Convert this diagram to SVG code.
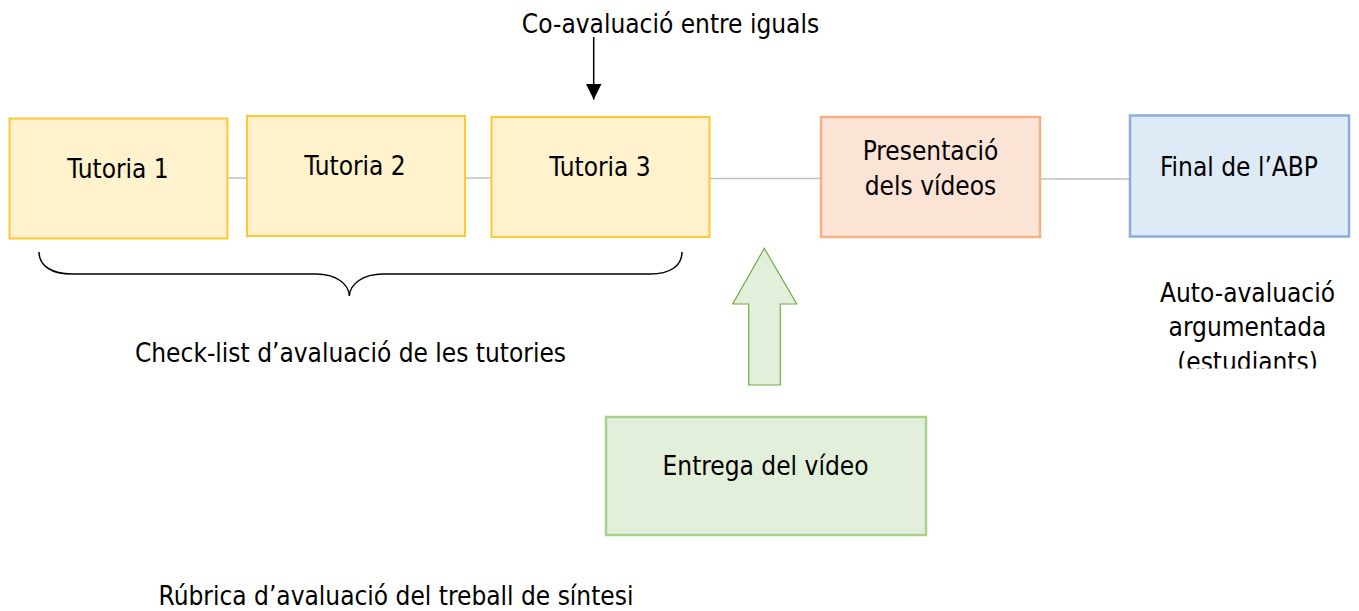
<svg xmlns="http://www.w3.org/2000/svg" width="1359" height="611" viewBox="0 0 1359 611">
<style>
text{font-family:Tahoma,"DejaVu Sans Condensed","DejaVu Sans",sans-serif;font-size:26px;fill:#000;text-anchor:middle}
.tut{fill:#fff2cc;stroke:#ffc833;stroke-width:2}
.con{stroke:#bfbfbf;stroke-width:1.5;fill:none}
</style>
<defs>
<marker id="ah" markerWidth="16" markerHeight="16" refX="16" refY="8" orient="auto" markerUnits="userSpaceOnUse" viewBox="0 0 16 16">
<path d="M0,0 L16,8 L0,16 Z" fill="#000"/>
</marker>
<clipPath id="clipAuto"><rect x="1100" y="270" width="259" height="98.5"/></clipPath>
</defs>
<rect width="1359" height="611" fill="#fff"/>
<g id="connectors">
<line class="con" x1="227" y1="178" x2="247" y2="178"/>
<line class="con" x1="465" y1="178" x2="491.5" y2="178"/>
<line class="con" x1="710" y1="178.5" x2="821" y2="178.5"/>
<line class="con" x1="1040" y1="179" x2="1130" y2="179"/>
<line x1="593.7" y1="37" x2="593.7" y2="99.5" stroke="#000" stroke-width="1.5" marker-end="url(#ah)"/>
</g>
<g id="tutoria1">
<rect class="tut" x="9.5" y="118.5" width="218" height="120"/>
<text x="118" y="178">Tutoria 1</text>
</g>
<g id="tutoria2">
<rect class="tut" x="247" y="116" width="218" height="120"/>
<text x="355" y="175">Tutoria 2</text>
</g>
<g id="tutoria3">
<rect class="tut" x="491.5" y="117" width="218" height="120"/>
<text x="600" y="175.5">Tutoria 3</text>
</g>
<g id="presentacio">
<rect x="821" y="117" width="219" height="120" fill="#fbe3d6" stroke="#f4b183" stroke-width="2.5"/>
<text x="930.5" y="159.5">Presentació</text>
<text x="930.5" y="194.5">dels vídeos</text>
</g>
<g id="final">
<rect x="1130" y="115.5" width="219" height="121" fill="#deebf7" stroke="#8faadc" stroke-width="2.5"/>
<text x="1239" y="176">Final de l’ABP</text>
</g>
<g id="entrega">
<rect x="606" y="417" width="320" height="118" fill="#e2efda" stroke="#a9d18e" stroke-width="2.5"/>
<text x="765.5" y="475">Entrega del vídeo</text>
</g>
<g id="green-arrow">
<polygon points="764.3,248.3 796.7,304 780.3,304 780.3,385 748.7,385 748.7,304 732.7,304" fill="#e2efda" stroke="#70ad47" stroke-width="1.2"/>
</g>
<g id="brace">
<path d="M39,252 C39,266 52,274 72,274 L316,274 C336,274 349,284 349.3,296 C350,284 363,274 383,274 L650,274 C670,274 682,266 682,252" fill="none" stroke="#000" stroke-width="1.5"/>
</g>
<g id="labels">
<text x="670.5" y="33">Co-avaluació entre iguals</text>
<text x="350.5" y="362">Check-list d’avaluació de les tutories</text>
<text x="396" y="605">Rúbrica d’avaluació del treball de síntesi</text>
<g clip-path="url(#clipAuto)">
<text x="1247.5" y="302">Auto-avaluació</text>
<text x="1247.5" y="336">argumentada</text>
<text x="1247.5" y="370.5">(estudiants)</text>
</g>
</g>
</svg>
